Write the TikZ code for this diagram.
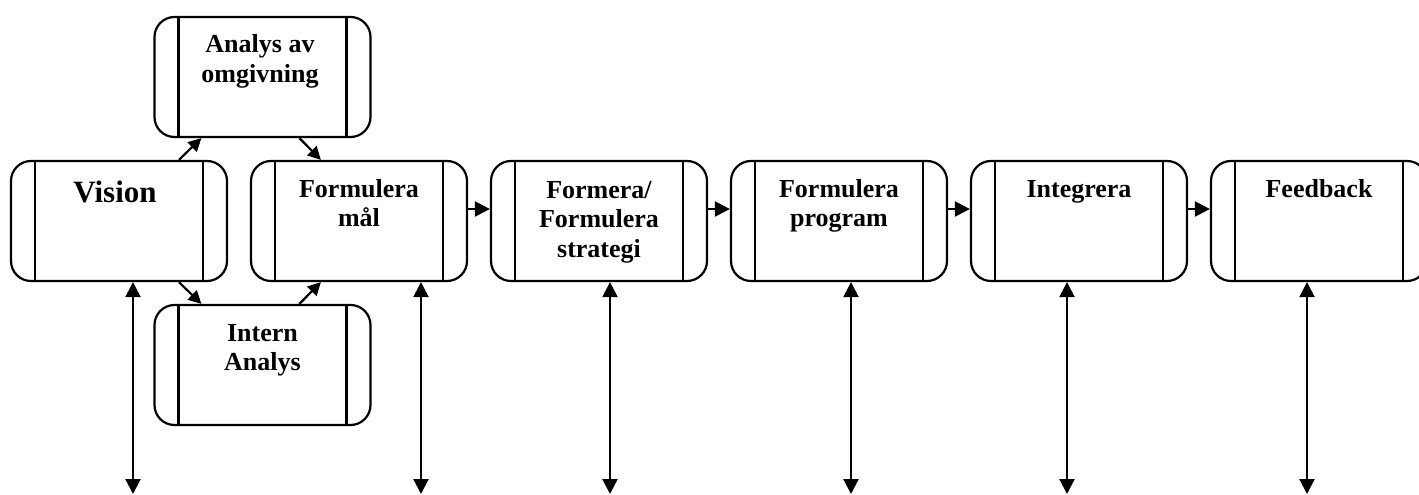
\documentclass[tikz,border=0pt]{standalone}
\usepackage{fontspec}
\setmainfont{Liberation Serif}
\usetikzlibrary{arrows.meta}
\begin{document}
\begin{tikzpicture}[x=1pt,y=-1pt,
  proc/.style={draw, line width=2.2pt, rounded corners=20pt, minimum width=216pt, minimum height=120pt, inner sep=0pt,
    path picture={\draw[line width=2.2pt]
      ([xshift=24pt]path picture bounding box.north west) -- ([xshift=24pt]path picture bounding box.south west)
      ([xshift=-24pt]path picture bounding box.north east) -- ([xshift=-24pt]path picture bounding box.south east);}},
  lbl/.style={font=\fontsize{26}{29.5}\selectfont\bfseries, align=center, anchor=base, inner sep=0pt},
  arr/.style={line width=2.2pt, -{Triangle[length=15pt,width=15pt]}},
  darr/.style={line width=2.2pt, -{Triangle[length=13pt,width=13pt]}},
  vert/.style={line width=2.2pt, {Triangle[length=15pt,width=15pt]}-{Triangle[length=15pt,width=15pt]}}]
\clip (0,0) rectangle (1419,495);
% boxes
\node[proc] (an) at (262.5,77) {};
\node[proc] (vi) at (119,221) {};
\node[proc] (fm) at (359,221) {};
\node[proc] (in) at (262.5,365) {};
\node[proc] (fs) at (599,221) {};
\node[proc] (fp) at (839,221) {};
\node[proc] (ig) at (1079,221) {};
\node[proc] (fb) at (1319,221) {};
% labels (anchor=base is the last line's baseline)
\node[lbl] (tan) at (260,82.5) {Analys av\\omgivning};
\node[lbl, font=\fontsize{31}{35}\selectfont\bfseries] (tvi) at (115,202) {Vision};
\node[lbl] (tfm) at (359,226.5) {Formulera\\mål};
\node[lbl] (tin) at (262.5,370.5) {Intern\\Analys};
\node[lbl] (tfs) at (599,257) {Formera/\\Formulera\\strategi};
\node[lbl] (tfp) at (839,226.5) {Formulera\\program};
\node[lbl] (tig) at (1079,197) {Integrera};
\node[lbl] (tfb) at (1319,197) {Feedback};
% diagonal arrows
\draw[darr] ([xshift=169pt]vi.north west) -- ([xshift=48pt]an.south west);
\draw[darr] ([xshift=146pt]an.south west) -- ([xshift=71pt]fm.north west);
\draw[darr] ([xshift=169pt]vi.south west) -- ([xshift=48pt]in.north west);
\draw[darr] ([xshift=146pt]in.north west) -- ([xshift=71pt]fm.south west);
% horizontal arrows
\draw[arr] ([yshift=12pt]fm.east) -- ([yshift=12pt]fs.west);
\draw[arr] ([yshift=12pt]fs.east) -- ([yshift=12pt]fp.west);
\draw[arr] ([yshift=12pt]fp.east) -- ([yshift=12pt]ig.west);
\draw[arr] ([yshift=12pt]ig.east) -- ([yshift=12pt]fb.west);
% vertical arrows
\coordinate (b1) at (133,494);
\coordinate (b2) at (421,494);
\coordinate (b3) at (610,494);
\coordinate (b4) at (851,494);
\coordinate (b5) at (1067,494);
\coordinate (b6) at (1307,494);
\draw[vert] (b1) -- (b1 |- vi.south);
\draw[vert] (b2) -- (b2 |- fm.south);
\draw[vert] (b3) -- (b3 |- fs.south);
\draw[vert] (b4) -- (b4 |- fp.south);
\draw[vert] (b5) -- (b5 |- ig.south);
\draw[vert] (b6) -- (b6 |- fb.south);
\end{tikzpicture}
\end{document}
